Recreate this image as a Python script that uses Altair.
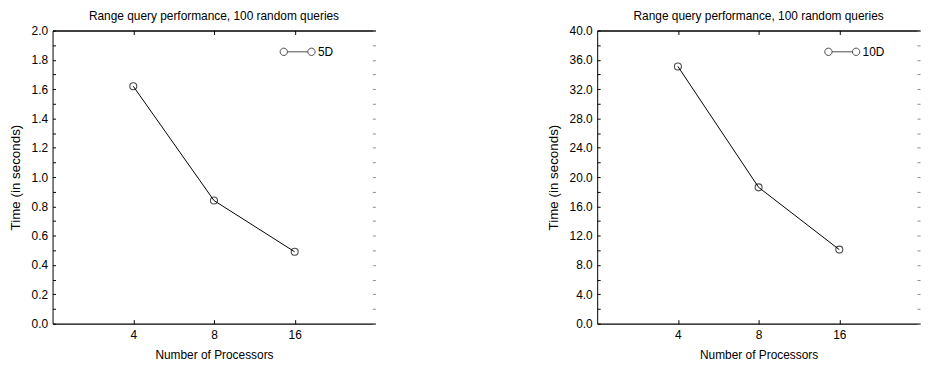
import altair as alt
import pandas as pd

procs = [4, 8, 16]
time_5d = [1.62, 0.84, 0.49]
time_10d = [35.1, 18.6, 10.1]
series_names = ["5D", "10D"]
title_text = "Range query performance, 100 random queries"
x_title = "Number of Processors"
y_title = "Time (in seconds)"

FONT = "Liberation Sans"
W, H = 326, 296

LEGEND_PATH = (
    "M-1,0 A0.21,0.21 0 1,1 -0.58,0 A0.21,0.21 0 1,1 -1,0 Z "
    "M-0.58,0 L0.58,0 "
    "M0.58,0 A0.21,0.21 0 1,1 1,0 A0.21,0.21 0 1,1 0.58,0 Z"
)


def panel(values, name, ymax, ystep_major, ystep_minor, fmt):
    df = pd.DataFrame({"procs": procs, "time": values, "series": [name] * len(procs)})
    n_minor = int(round(ymax / ystep_minor))
    all_ticks = [round(i * ystep_minor, 6) for i in range(n_minor + 1)]
    ratio = int(round(ystep_major / ystep_minor))
    major_ticks = [round(i * ystep_minor, 6) for i in range(0, n_minor + 1, ratio)]

    xscale = alt.Scale(type="log", base=2, domain=[2, 32])
    yscale = alt.Scale(domain=[0, ymax], nice=False, zero=True)
    color = alt.Color(
        "series:N",
        scale=alt.Scale(domain=[name], range=["black"]),
        legend=alt.Legend(
            title=None,
            orient="none",
            legendX=229,
            legendY=3,
            padding=0,
            symbolType=LEGEND_PATH,
            symbolSize=1253,
            symbolStrokeColor="black",
            symbolFillColor="transparent",
            symbolStrokeWidth=1,
            labelFont=FONT,
            labelFontSize=12,
            labelColor="black",
            labelOffset=2,
        ),
    )

    x_bottom = alt.X(
        "procs:Q",
        scale=xscale,
        axis=alt.Axis(
            values=procs,
            format="d",
            title=x_title,
            orient="bottom",
            tickSize={"expr": "-4"},
            tickColor="black",
            domainColor="black",
            domainWidth=1.5,
            labelPadding=10,
            titlePadding=9,
            grid=False,
        ),
    )
    y_left = alt.Y(
        "time:Q",
        scale=yscale,
        axis=alt.Axis(
            values=all_ticks,
            labelExpr=f"indexof({major_ticks}, datum.value) >= 0 ? format(datum.value, '{fmt}') : ''",
            title=y_title,
            orient="left",
            tickSize={"expr": "-3"},
            tickColor="black",
            domainColor="black",
            labelPadding=8,
            titlePadding=9,
            titleFontSize=13.5,
            grid=False,
        ),
    )

    line = alt.Chart(df).mark_line(strokeWidth=1).encode(
        x=x_bottom, y=y_left, color=color
    )
    pts = alt.Chart(df).mark_point(
        shape="circle", size=50, filled=False, strokeWidth=1.1
    ).encode(
        x=alt.X("procs:Q", scale=xscale, axis=None),
        y=alt.Y("time:Q", scale=yscale, axis=None),
        color=color,
    )

    frame = alt.Chart(df).mark_point(opacity=0).encode(
        x=alt.X(
            "procs:Q",
            scale=xscale,
            axis=alt.Axis(
                values=procs,
                labels=False,
                title=None,
                orient="top",
                tickSize={"expr": "-4"},
                tickColor="black",
                domainColor="black",
                domainWidth=1.5,
                grid=False,
            ),
        ),
        y=alt.Y(
            "time:Q",
            scale=yscale,
            axis=alt.Axis(
                values=all_ticks,
                labels=False,
                title=None,
                orient="right",
                tickSize={"expr": "-3"},
                tickColor="#8a8a8a",
                domain=False,
                grid=False,
            ),
        ),
    )

    return (
        alt.layer(line, pts, frame)
        .resolve_axis(x="independent", y="independent")
        .properties(
            width=W,
            height=H,
            title=alt.Title(title_text, fontSize=12, fontWeight="normal", font=FONT, offset=2),
        )
    )


left = panel(time_5d, series_names[0], 2.0, 0.2, 0.1, ".1f")
right = panel(time_10d, series_names[1], 40.0, 4.0, 2.0, ".1f")

chart = (
    alt.hconcat(left, right, spacing=171)
    .resolve_scale(color="independent")
    .configure(padding=0, font=FONT)
    .configure_view(stroke=None)
    .configure_axis(
        labelFont=FONT,
        labelFontSize=12,
        labelColor="black",
        titleFont=FONT,
        titleFontSize=12,
        titleFontWeight="normal",
        titleColor="black",
    )
)

chart.save("out.html", embed_options={"renderer": "svg", "actions": False})
